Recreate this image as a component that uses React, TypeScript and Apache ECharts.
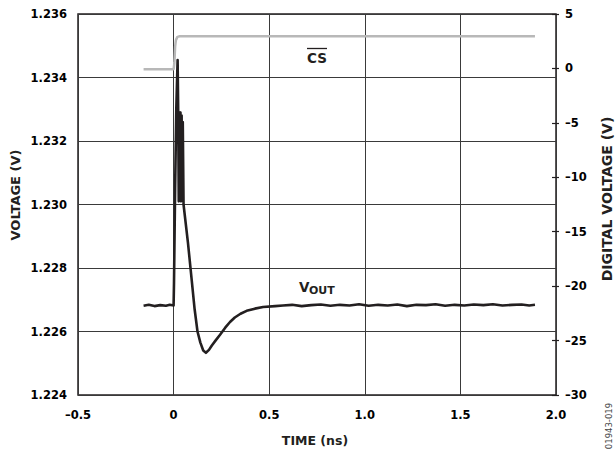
import React, { useEffect, useRef } from "react";
import * as echarts from "echarts";

// VOUT trace (time ns, volts)
const voutTime = [
  -0.157, -0.13, -0.1, -0.07, -0.04, -0.02, 0.0,
  0.002, 0.008, 0.014, 0.021, 0.024,
  0.027, 0.030, 0.033, 0.036, 0.039, 0.042, 0.045, 0.048, 0.052,
  0.075, 0.095, 0.11, 0.125, 0.14, 0.155, 0.169, 0.185, 0.2, 0.22, 0.243, 0.27, 0.295, 0.32, 0.35, 0.382, 0.425, 0.468, 0.531, 0.572,
  0.62, 0.67, 0.72, 0.77, 0.82, 0.87, 0.92, 0.97, 1.02, 1.07, 1.12, 1.17, 1.22, 1.27, 1.32, 1.37, 1.42, 1.47, 1.52, 1.57, 1.62, 1.67, 1.72, 1.77, 1.82, 1.86, 1.89,
];
const voutValue = [
  1.22681, 1.22684, 1.2268, 1.22683, 1.22681, 1.22684, 1.22682,
  1.2275, 1.2305, 1.2330, 1.23455, 1.2330,
  1.2301, 1.2329, 1.2302, 1.2329, 1.2301, 1.2328, 1.2302, 1.2326, 1.2300,
  1.2288, 1.2276, 1.2267, 1.2260, 1.22565, 1.2254, 1.22533, 1.22542, 1.22556, 1.22572, 1.2259, 1.22612, 1.2263, 1.22644, 1.22656, 1.22665, 1.22672, 1.22677, 1.2268, 1.22682,
  1.22684, 1.2268, 1.22683, 1.22685, 1.22681, 1.22684, 1.22682, 1.22686, 1.22681, 1.22684, 1.22682, 1.22685, 1.2268, 1.22684, 1.22683, 1.22686, 1.22681, 1.22684, 1.22682, 1.22685, 1.22683, 1.22686, 1.22682, 1.22684, 1.22685, 1.22682, 1.22684,
];

// CS digital trace (time ns, volts)
const csTime = [-0.157, 0.0, 0.004, 0.008, 0.012, 0.02, 0.032, 1.89];
const csValue = [-0.08, -0.08, 0.5, 2.0, 2.6, 2.9, 2.95, 2.95];

// Axis ranges / ticks
const xRange = [-0.5, 2.0, 0.5];
const leftRange = [1.224, 1.236, 0.002];
const rightRange = [-30, 5, 5];

const INK = "#231f20";
const FONT = '"DejaVu Sans", "Liberation Sans", Arial, sans-serif';

const dash = (s: string) => s.replace("-", "\u2013");

export default function App() {
  const ref = useRef<HTMLDivElement>(null);

  useEffect(() => {
    if (!ref.current) return;
    const chart = echarts.init(ref.current, undefined, { renderer: "svg" });

    const tickLabel = {
      fontFamily: FONT,
      fontWeight: 700,
      fontSize: 11.5,
      color: "#000000",
    };

    chart.setOption({
      animation: false,
      backgroundColor: "#ffffff",
      grid: {
        left: 78,
        right: 60,
        top: 14,
        bottom: 60,
        show: true,
        borderColor: INK,
        borderWidth: 1.5,
        backgroundColor: "transparent",
      },
      xAxis: {
        type: "value",
        min: xRange[0],
        max: xRange[1],
        interval: xRange[2],
        axisLine: { show: false, onZero: false },
        axisTick: { show: false },
        splitLine: { show: true, lineStyle: { color: "#3a3a3a", width: 1 } },
        axisLabel: {
          ...tickLabel,
          margin: 14,
          formatter: (v: number) => (Math.abs(v) < 1e-9 ? "0" : dash(v.toFixed(1))),
        },
      },
      yAxis: [
        {
          type: "value",
          position: "left",
          min: leftRange[0],
          max: leftRange[1],
          interval: leftRange[2],
          axisLine: { show: false, onZero: false },
          axisTick: { show: false },
          splitLine: { show: true, lineStyle: { color: "#3a3a3a", width: 1 } },
          axisLabel: { ...tickLabel, margin: 11, formatter: (v: number) => v.toFixed(3) },
        },
        {
          type: "value",
          position: "right",
          min: rightRange[0],
          max: rightRange[1],
          interval: rightRange[2],
          axisLine: { show: false, onZero: false },
          axisTick: { show: true, inside: false, length: 3, lineStyle: { color: INK, width: 1.2 } },
          splitLine: { show: false },
          axisLabel: { ...tickLabel, margin: 9, formatter: (v: number) => dash(String(v)) },
        },
        {
          type: "value",
          position: "right",
          min: rightRange[0],
          max: rightRange[1],
          interval: rightRange[2],
          axisLine: { show: false, onZero: false },
          axisTick: { show: true, inside: true, length: 4, lineStyle: { color: INK, width: 1.2 } },
          splitLine: { show: false },
          axisLabel: { show: false },
        },
      ],
      series: [
        {
          type: "line",
          name: "CS",
          yAxisIndex: 1,
          data: csTime.map((t, i) => [t, csValue[i]]),
          showSymbol: false,
          symbol: "none",
          smooth: false,
          lineStyle: { color: "#b8b8b8", width: 2.5 },
          z: 2,
        },
        {
          type: "line",
          name: "VOUT",
          yAxisIndex: 0,
          data: voutTime.map((t, i) => [t, voutValue[i]]),
          showSymbol: false,
          symbol: "none",
          lineStyle: { color: INK, width: 2.6, join: "round" },
          z: 3,
        },
      ],
      graphic: [
        {
          type: "text",
          x: 15,
          y: 195,
          rotation: Math.PI / 2,
          style: { text: "VOLTAGE (V)", font: `bold 13px ${FONT}`, fill: INK, textAlign: "center", textVerticalAlign: "middle" },
        },
        {
          type: "text",
          x: 607,
          y: 199,
          rotation: Math.PI / 2,
          style: { text: "DIGITAL VOLTAGE (V)", font: `bold 14px ${FONT}`, fill: INK, textAlign: "center", textVerticalAlign: "middle" },
        },
        {
          type: "text",
          x: 315,
          y: 440,
          style: { text: "TIME (ns)", font: `bold 12.5px ${FONT}`, fill: INK, textAlign: "center", textVerticalAlign: "middle" },
        },
        {
          type: "text",
          x: 609,
          y: 426,
          rotation: Math.PI / 2,
          style: { text: "01943-019", font: `8.5px ${FONT}`, fill: "#444444", textAlign: "center", textVerticalAlign: "middle" },
        },
        {
          type: "text",
          x: 317,
          y: 58,
          style: { text: "CS", font: `bold 13.5px ${FONT}`, fill: INK, textAlign: "center", textVerticalAlign: "middle" },
        },
        {
          type: "line",
          shape: { x1: 307, y1: 48.5, x2: 327, y2: 48.5 },
          style: { stroke: INK, lineWidth: 1.3 },
        },
        {
          type: "text",
          x: 299,
          y: 286.5,
          style: { text: "V", font: `bold 13.5px ${FONT}`, fill: INK, textAlign: "left", textVerticalAlign: "middle" },
        },
        {
          type: "text",
          x: 309,
          y: 290.5,
          style: { text: "OUT", font: `bold 11px ${FONT}`, fill: INK, textAlign: "left", textVerticalAlign: "middle" },
        },
      ],
    });

    return () => chart.dispose();
  }, []);

  return <div ref={ref} style={{ width: 616, height: 455, position: "fixed", left: 0, top: 0, background: "#fff" }} />;
}
